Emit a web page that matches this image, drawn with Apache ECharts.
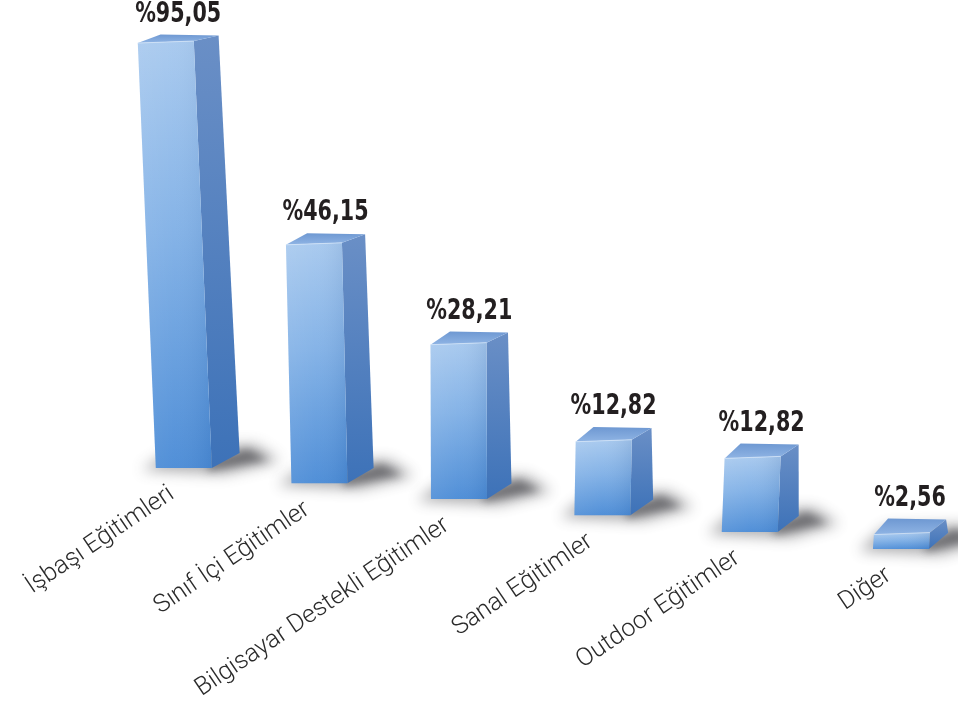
<!DOCTYPE html>
<html>
<head>
<meta charset="utf-8">
<script src="https://cdn.jsdelivr.net/npm/echarts@6/dist/echarts.min.js"></script>
<style>
  html, body { margin: 0; padding: 0; background: #ffffff; }
  #chart { width: 958px; height: 718px; }
</style>
</head>
<body>
<div id="chart"></div>
<script>
// Training types and the share of respondents using each one (%)
const categories = [
  'İşbaşı Eğitimleri',
  'Sınıf İçi Eğitimler',
  'Bilgisayar Destekli Eğitimler',
  'Sanal Eğitimler',
  'Outdoor Eğitimler',
  'Diğer'
];
const shares = [95.05, 46.15, 28.21, 12.82, 12.82, 2.56];
const shareLabels = shares.map(v => '%' + v.toFixed(2).replace('.', ','));

// Pseudo-3D look: the floor tilts down to the right and widens towards the
// viewer, tall columns are foreshortened and lean away from a vanishing point.
const FLOOR_TILT = 0.113;      // px of drop per px to the right
const FLOOR_SPREAD = 1.0925e-4;// horizontal perspective stretch
const FORESHORTEN = 0.000623;  // height compression per px of height
const VANISH_X = 480;
const LEAN = 1.43e-4;
const FRONT_W = 56;
const OFFSCREEN = 1500;        // shadow blobs are drawn off canvas, only their blur shows

const frontFill = {
  type: 'linear', x: 0, y: 0, x2: 0, y2: 1,
  colorStops: [
    { offset: 0, color: '#a6c8ee' },
    { offset: 0.45, color: '#80b0e6' },
    { offset: 1, color: '#4a8bd6' }
  ]
};
const frontSheen = {
  type: 'linear', x: 0, y: 0, x2: 1, y2: 0,
  colorStops: [
    { offset: 0, color: 'rgba(255,255,255,0.10)' },
    { offset: 0.5, color: 'rgba(255,255,255,0.04)' },
    { offset: 1, color: 'rgba(20,60,120,0.10)' }
  ]
};
const sideFill = {
  type: 'linear', x: 0, y: 0, x2: 0, y2: 1,
  colorStops: [
    { offset: 0, color: '#6a8fc6' },
    { offset: 1, color: '#3d72b8' }
  ]
};
const topFill = {
  type: 'linear', x: 0, y: 1, x2: 0, y2: 0,
  colorStops: [
    { offset: 0, color: '#8fb4e4' },
    { offset: 1, color: '#6e98d2' }
  ]
};

function softShadow(points, blur, color) {
  return {
    type: 'polygon',
    shape: { points: points.map(p => [p[0] - OFFSCREEN, p[1]]) },
    style: {
      fill: '#000',
      shadowBlur: blur,
      shadowColor: color,
      shadowOffsetX: OFFSCREEN
    },
    silent: true
  };
}

function renderBar(params, api) {
  const i = api.value(0);
  const v = api.value(1);
  const p0 = api.coord([i, 0]);
  const p1 = api.coord([i, v]);
  const first = api.coord([0, 0]);

  const run = p0[0] - first[0];
  const cx = p0[0] + FLOOR_SPREAD * run * run;
  const baseY = p0[1] + FLOOR_TILT * (cx - first[0]);
  const linH = p0[1] - p1[1];
  const h = linH / (1 + FORESHORTEN * linH);
  const topY = baseY - h;
  const lean = (cx - VANISH_X) * LEAN * h;

  const half = FRONT_W / 2;
  const bl = [cx - half, baseY];
  const br = [cx + half, baseY];
  const tl = [cx - half + lean, topY + 1];
  const tr = [cx + half + lean, topY - 1];

  const depthX = 27 - 0.012 * cx;
  const dyTop = -(8 + 0.015 * topY);
  const dyBot = -(8 + 0.015 * baseY);

  const tbl = [tl[0] + depthX - 2, tl[1] + dyTop];
  const tbr = [tr[0] + depthX, tr[1] + dyTop + 3];
  const bbr = [br[0] + depthX + 3, br[1] + dyBot];

  // wide faint halo and a darker core cast to the right of the base
  const halo = [
    [bl[0] - 14, baseY + 2],
    [br[0] + 12, baseY + 6],
    [bbr[0] + 40, bbr[1] + 8],
    [bbr[0] + 16, bbr[1] - 8],
    [bl[0] + depthX - 4, baseY + dyBot - 6]
  ];
  const core = [
    [br[0] - 4, baseY + 3],
    [bbr[0] + 28, bbr[1] + 7],
    [bbr[0] + 8, bbr[1] - 4],
    [br[0] - 4, baseY - 6]
  ];

  return {
    type: 'group',
    children: [
      softShadow(halo, 14, 'rgba(70,70,75,0.45)'),
      softShadow(core, 9, 'rgba(60,60,66,0.55)'),
      {
        type: 'polygon',
        shape: { points: [tr, br, bbr, tbr] },
        style: { fill: sideFill }
      },
      {
        type: 'polygon',
        shape: { points: [tl, tr, tbr, tbl] },
        style: { fill: topFill }
      },
      {
        type: 'polygon',
        shape: { points: [tl, tr, br, bl] },
        style: { fill: frontFill }
      },
      {
        type: 'polygon',
        shape: { points: [tl, tr, br, bl] },
        style: { fill: frontSheen },
        silent: true
      },
      {
        type: 'polyline',
        shape: { points: [tl, tr] },
        style: { stroke: 'rgba(210,228,248,0.8)', lineWidth: 1, fill: null },
        silent: true
      },
      {
        type: 'text',
        x: cx + lean + depthX * 0.5,
        y: Math.min(tl[1], tr[1]) + dyTop - 4,
        scaleX: 0.82,
        style: {
          text: shareLabels[i],
          fill: '#231f20',
          fontFamily: '"DejaVu Sans Condensed", "DejaVu Sans", sans-serif',
          fontWeight: 'bold',
          fontSize: 28,
          align: 'center',
          verticalAlign: 'bottom'
        }
      },
      {
        type: 'text',
        x: cx - 12,
        y: baseY + 24,
        rotation: 34 * Math.PI / 180,
        style: {
          text: categories[i],
          fill: '#2b2b2b',
          fontFamily: 'Roboto',
          fontWeight: 300,
          fontSize: 25,
          align: 'right',
          verticalAlign: 'middle'
        }
      }
    ]
  };
}

const chart = echarts.init(document.getElementById('chart'), null, { renderer: 'canvas' });
chart.setOption({
  backgroundColor: '#ffffff',
  animation: false,
  grid: { left: 117, right: 39, top: -142, bottom: 250, outerBoundsMode: 'none' },
  xAxis: {
    type: 'category',
    data: categories,
    show: false
  },
  yAxis: {
    type: 'value',
    min: 0,
    max: 100,
    show: false
  },
  series: [{
    type: 'custom',
    renderItem: renderBar,
    encode: { x: 0, y: 1 },
    data: shares.map((v, i) => [i, v]),
    clip: false
  }]
});
</script>
</body>
</html>
